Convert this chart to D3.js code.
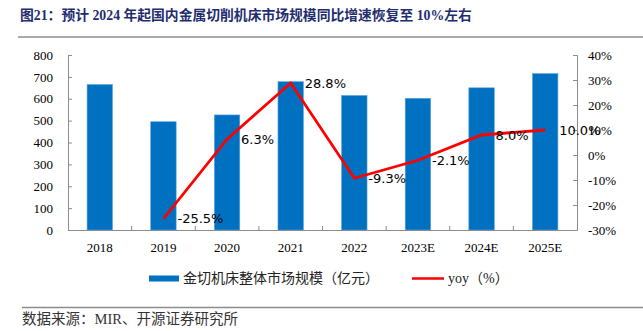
<!DOCTYPE html>
<html>
<head>
<meta charset="utf-8">
<script src="https://cdn.jsdelivr.net/npm/d3@7"></script>
<style>
  body { margin: 0; background: #fff; }
  .axis path, .axis line { stroke: #8c8c8c; }
  .axis text { font-family: "Liberation Serif", "Times New Roman", serif; font-size: 13px; fill: #000; }
  .cn { font-family: "Liberation Serif", "Noto Sans CJK SC", serif; }
</style>
</head>
<body>
<div id="chart"></div>
<script>
const years = ['2018', '2019', '2020', '2021', '2022', '2023E', '2024E', '2025E'];
const marketSize = [665, 495, 526, 678, 615, 602, 650, 715];
const yoyYears = ['2019', '2020', '2021', '2022', '2023E', '2024E', '2025E'];
const yoyValues = [-25.5, 6.3, 28.8, -9.3, -2.1, 8.0, 10.0];
const leftTicks = [0, 100, 200, 300, 400, 500, 600, 700, 800];
const rightTicks = [-30, -20, -10, 0, 10, 20, 30, 40];

const width = 643, height = 331;
const plot = { left: 68, right: 577, top: 55, bottom: 230 };

const svg = d3.select('#chart').append('svg')
  .attr('width', width)
  .attr('height', height);

// Title and rules
svg.append('text')
  .attr('class', 'cn')
  .attr('x', 20)
  .attr('y', 20)
  .attr('font-size', 13.8)
  .attr('font-weight', 'bold')
  .attr('fill', '#1f2d6e')
  .text('图21：预计 2024 年起国内金属切削机床市场规模同比增速恢复至 10%左右');

svg.append('line')
  .attr('x1', 18).attr('x2', width)
  .attr('y1', 37).attr('y2', 37)
  .attr('stroke', '#8c8c8c').attr('stroke-width', 1.5);

svg.append('line')
  .attr('x1', 22).attr('x2', width)
  .attr('y1', 307.5).attr('y2', 307.5)
  .attr('stroke', '#8c8c8c').attr('stroke-width', 1.5);

svg.append('text')
  .attr('class', 'cn')
  .attr('x', 22)
  .attr('y', 324)
  .attr('font-size', 14.5)
  .attr('fill', '#333')
  .text('数据来源：MIR、开源证券研究所');

// Scales
const x = d3.scaleBand().domain(years).range([plot.left, plot.right]);
const y = d3.scaleLinear().domain([0, 800]).range([plot.bottom, plot.top]);
const y2 = d3.scaleLinear().domain([-30, 40]).range([plot.bottom, plot.top]);

// Bars
const barW = x.bandwidth() * 0.4;
svg.append('g').selectAll('rect')
  .data(years)
  .join('rect')
  .attr('x', (d) => x(d) + (x.bandwidth() - barW) / 2)
  .attr('width', barW)
  .attr('y', (d, i) => y(marketSize[i]))
  .attr('height', (d, i) => y(0) - y(marketSize[i]))
  .attr('fill', '#0070c0')
  .attr('stroke', '#5fa6dc')
  .attr('stroke-width', 0.6);

// Axes
svg.append('g')
  .attr('class', 'axis')
  .attr('transform', `translate(${plot.left},0)`)
  .call(d3.axisLeft(y).tickValues(leftTicks).tickSize(-4).tickPadding(15).tickSizeOuter(-4));

svg.append('g')
  .attr('class', 'axis')
  .attr('transform', `translate(${plot.right},0)`)
  .call(d3.axisRight(y2).tickValues(rightTicks).tickSize(-4).tickPadding(11).tickSizeOuter(-4)
    .tickFormat((d) => d + '%'));

const xAxisG = svg.append('g')
  .attr('class', 'axis')
  .attr('transform', `translate(0,${plot.bottom})`)
  .call(d3.axisBottom(x).tickSize(0).tickPadding(13));

// category separators, pointing up
xAxisG.selectAll('.sep')
  .data(years.slice(1))
  .join('line')
  .attr('class', 'sep')
  .attr('x1', (d) => x(d)).attr('x2', (d) => x(d))
  .attr('y1', 0).attr('y2', -4);

// yoy line
const line = d3.line()
  .x((d, i) => x(yoyYears[i]) + x.bandwidth() / 2)
  .y((d) => y2(d));

svg.append('path')
  .datum(yoyValues)
  .attr('d', line)
  .attr('fill', 'none')
  .attr('stroke', '#ff0000')
  .attr('stroke-width', 2.8);

svg.append('g').selectAll('text')
  .data(yoyValues)
  .join('text')
  .attr('x', (d, i) => x(yoyYears[i]) + x.bandwidth() / 2 + 14)
  .attr('y', (d) => y2(d))
  .attr('dy', '0.36em')
  .attr('font-family', '"DejaVu Sans", sans-serif')
  .attr('font-size', 13)
  .attr('fill', '#000')
  .text((d) => d.toFixed(1) + '%');

// Legend
const legend = svg.append('g');
legend.append('rect')
  .attr('x', 149).attr('y', 275.5)
  .attr('width', 30).attr('height', 6)
  .attr('fill', '#0070c0');
legend.append('text')
  .attr('class', 'cn')
  .attr('x', 183).attr('y', 278.5)
  .attr('dy', '0.35em')
  .attr('font-size', 14)
  .attr('fill', '#222')
  .text('金切机床整体市场规模（亿元）');
legend.append('line')
  .attr('x1', 412).attr('x2', 444)
  .attr('y1', 278.5).attr('y2', 278.5)
  .attr('stroke', '#ff0000').attr('stroke-width', 2.5);
legend.append('text')
  .attr('class', 'cn')
  .attr('x', 448).attr('y', 278.5)
  .attr('dy', '0.35em')
  .attr('font-size', 14)
  .attr('fill', '#222')
  .text('yoy（%）');
</script>
</body>
</html>
